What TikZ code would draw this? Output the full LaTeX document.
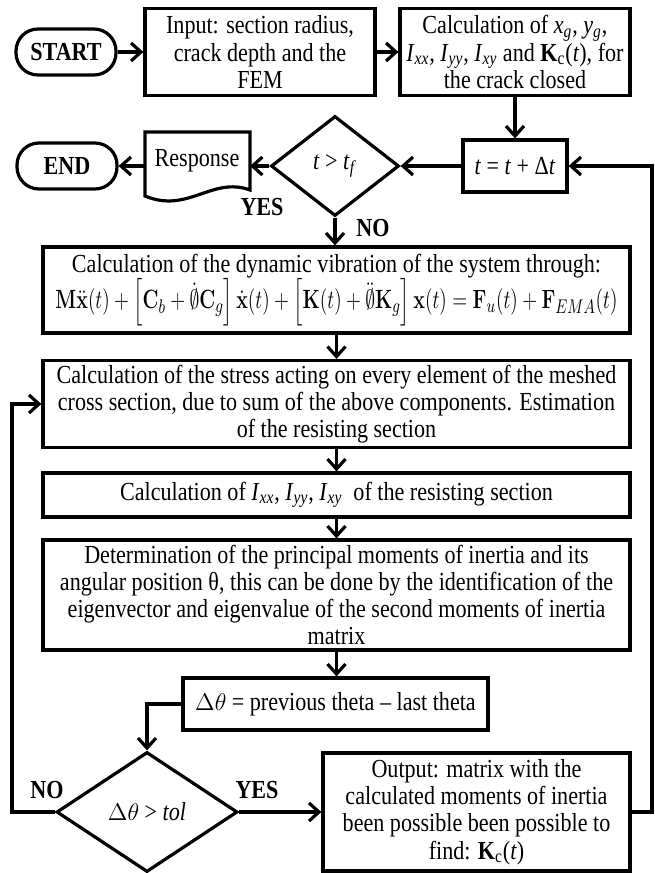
\documentclass[tikz,border=0pt]{standalone}
\usepackage[no-math]{fontspec}
\setmainfont[FakeStretch=0.85]{Liberation Serif}
\usepackage{amsmath}
\usepackage{graphicx}
\usepackage{xcolor}
\usetikzlibrary{shapes.geometric,arrows.meta}

\newcommand{\vsub}[2]{\textit{#1}\textsubscript{\textit{#2}}}
\newcommand{\Kct}{\textbf{K}\textsubscript{c}(\textit{t})}

\begin{document}
\begin{tikzpicture}[x=0.5pt,y=-0.5pt,line width=1.6pt,
		font=\fontsize{13}{13.6}\selectfont,
		>={Straight Barb[length=5pt,width=9pt]},
		box/.style={draw,rectangle,align=center,inner sep=1pt},
		term/.style={draw,rectangle,rounded corners=11pt,minimum width=50pt,minimum height=23pt,font=\fontsize{13}{13.6}\selectfont\bfseries},
		dec/.style={draw,diamond,inner sep=0pt},
		lbl/.style={font=\fontsize{13}{13.6}\selectfont\bfseries}]
			\useasboundingbox (0,0) rectangle (654,873);
			\coordinate (rbot) at (652,812);
			\coordinate (rtop) at (652,166);
			\coordinate (lbot) at (12,812);
			\coordinate (ltop) at (12,404);
			\node (start) at (66,52) [term] {START};
			\node (input) at (260,52) [box,minimum width=115pt,minimum height=43.5pt] {Input: section radius,\\crack depth and the\\FEM};
			\node (calc) at (515,52) [box,minimum width=115pt,minimum height=43.5pt] {Calculation of \vsub{x}{g}, \vsub{y}{g},\\\vsub{I}{xx}, \vsub{I}{yy}, \vsub{I}{xy} and \Kct, for\\the crack closed};
			\node (tstep) at (515,166) [box,minimum width=52pt,minimum height=26pt] {\textit{t} = \textit{t} + Δ\textit{t}};
			\node (dec1) at (335,166) [dec,minimum width=64pt,minimum height=50pt] {\textit{t} > \vsub{t}{f}};
			\node (resp) at (197,161) [minimum width=52.5pt,minimum height=26pt] {Response};
			\node (endn) at (67,166) [term] {END};
			\node (dyn) at (336.5,290) [box,minimum width=293.5pt,minimum height=43pt] {Calculation of the dynamic vibration of the system through:\\[-1pt]
				\resizebox{281pt}{!}{\scalebox{1}[1.35]{\(\mathbf{M}\ddot{\mathbf{x}}(t)+\Big[\mathbf{C}_b+\dot{\emptyset}\mathbf{C}_g\Big]\,\dot{\mathbf{x}}(t)+\Big[\mathbf{K}(t)+\ddot{\emptyset}\mathbf{K}_g\Big]\,\mathbf{x}(t)=\mathbf{F}_u(t)+\mathbf{F}_{EMA}(t)\)}}};
			\node (stress) at (336.5,404) [box,minimum width=293.5pt,minimum height=43.5pt] {Calculation of the stress acting on every element of the meshed\\cross section, due to sum of the above components. Estimation\\of the resisting section};
			\node (inert) at (336.5,495) [box,minimum width=293.5pt,minimum height=22pt] {Calculation of \vsub{I}{xx}, \vsub{I}{yy}, \vsub{I}{xy}\ \ of the resisting section};
			\node (princ) at (336.5,595) [box,minimum width=293.5pt,minimum height=55pt] {Determination of the principal moments of inertia and its\\angular position θ, this can be done by the identification of the\\eigenvector and eigenvalue of the second moments of inertia\\matrix};
			\node (dtheta) at (335.5,704) [box,minimum width=152.5pt,minimum height=26pt] {\(\Delta\theta\) = previous theta – last theta};
			\node (dec2) at (147,812) [dec,minimum width=90.5pt,minimum height=60pt] {\(\Delta\theta\) > \textit{tol}};
			\node (output) at (476.5,812) [box,minimum width=153.5pt,minimum height=59pt] {Output: matrix with the\\calculated moments of inertia\\been possible been possible to\\find: \Kct};
			\node (yes1) at (262,207) [lbl] {YES};
			\node (no1) at (373,228) [lbl] {NO};
			\node (no2) at (47,790) [lbl] {NO};
			\node (yes2) at (257,790) [lbl] {YES};
			\draw (145,132) -- (250,132) -- (250,190) .. controls (212,176) and (188,214) .. (145,196) -- cycle;
			\draw [->] (start) -- (input);
			\draw [->] (input) -- (calc);
			\draw [->] (calc) -- (tstep);
			\draw [->] (output.east) -- (rbot) -- (rtop) -- (tstep.east);
			\draw [->] (tstep) -- (dec1);
			\draw [->] (dec1.west) -- (250,166);
			\draw [->] (145,166) -- (endn.east);
			\draw [->] (dec1) -- (dec1 |- dyn.north);
			\draw [->] (dyn) -- (stress);
			\draw [->] (stress) -- (inert);
			\draw [->] (inert) -- (princ);
			\draw [->] (princ.south) -- (princ.south |- dtheta.north);
			\draw [->] (dtheta.west) -| (dec2.north);
			\draw [->] (dec2) -- (output);
			\draw [->] (dec2.west) -- (lbot) -- (ltop) -- (stress.west);
		\end{tikzpicture}
\end{document}
